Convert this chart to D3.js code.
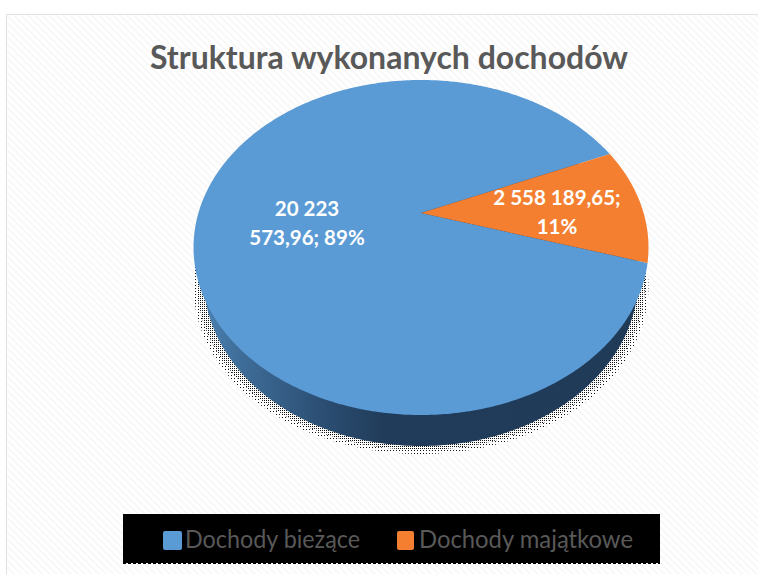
<!DOCTYPE html>
<html lang="pl">
<head>
<meta charset="utf-8">
<style>
html,body{margin:0;padding:0;background:#fff}
svg{display:block}
text{font-family:Lato,"Open Sans",sans-serif}
</style>
<script src="https://cdn.jsdelivr.net/npm/d3@7"></script>
</head>
<body>
<svg id="chart" width="758" height="574"></svg>
<script>
const title = "Struktura wykonanych dochodów";
const categories = ["Dochody bieżące", "Dochody majątkowe"];
const values = [20223573.96, 2558189.65];
const sliceColors = ["#5b9bd5", "#f47f30"];
const labelLines = [["20 223", "573,96; 89%"], ["2 558 189,65;", "11%"]];

const svg = d3.select("#chart");
const W = 758, H = 574;
const defs = svg.append("defs");

const hatch = defs.append("pattern").attr("id", "hatch").attr("width", 5).attr("height", 5)
  .attr("patternUnits", "userSpaceOnUse").attr("patternTransform", "rotate(45)");
hatch.append("rect").attr("width", 5).attr("height", 5).attr("fill", "#ffffff");
hatch.append("rect").attr("width", 5).attr("height", 2).attr("fill", "#f8f8f8");

function stipple(id, step) {
  const p = defs.append("pattern").attr("id", id).attr("width", step).attr("height", step)
    .attr("patternUnits", "userSpaceOnUse");
  p.append("rect").attr("width", step).attr("height", step).attr("fill", "#ffffff");
  p.append("rect").attr("width", 1).attr("height", 1).attr("fill", "#111111");
}
stipple("stippleDense", 2);
stipple("stippleSparse", 3);

const wallGrad = defs.append("linearGradient").attr("id", "wall")
  .attr("gradientUnits", "userSpaceOnUse").attr("x1", 193).attr("x2", 648).attr("y1", 0).attr("y2", 0);
[[0, "#4f86b8"], [0.1, "#3f6e9a"], [0.3, "#2a4c70"], [0.42, "#213c5a"], [1, "#1f3b58"]]
  .forEach(([o, c]) => wallGrad.append("stop").attr("offset", o).attr("stop-color", c));

// panel
svg.append("rect").attr("width", W).attr("height", H).attr("fill", "#ffffff");
svg.append("rect").attr("x", 6.5).attr("y", 14.5).attr("width", W).attr("height", H)
  .attr("fill", "url(#hatch)").attr("stroke", "#e2e2e2");

// title
svg.append("text").attr("x", 389).attr("y", 69).attr("text-anchor", "middle")
  .attr("font-size", 33).attr("font-weight", 700).attr("fill", "#595959")
  .attr("textLength", 478).attr("lengthAdjust", "spacingAndGlyphs").text(title);

// perspective projection of the unit disc
const x0 = 421, y0 = 213, k = -0.206, a = 160.4, b = 222.6;
const project = (u, v) => {
  const w = 1 + k * v;
  return [x0 + b * u / w, y0 + a * v / w];
};
const onRim = t => project(Math.sin(t), -Math.cos(t));
const line = d3.line();
const start = 107 * Math.PI / 180;
const pie = d3.pie().sort(null).startAngle(start).endAngle(start + 2 * Math.PI);
const arcs = pie(values);
const sampled = (t0, t1) => {
  const n = Math.max(2, Math.ceil((t1 - t0) / 0.01));
  return d3.range(n + 1).map(i => onRim(t0 + (t1 - t0) * i / n));
};
const rim = sampled(0, 2 * Math.PI);
const rimPath = (sx, dy) => line(rim.map(([x, y]) => [x0 + (x - x0) * sx, y + dy])) + "Z";

// stipple shadow and side wall
svg.append("path").attr("d", rimPath(1, 39)).attr("fill", "url(#stippleSparse)");
svg.append("path").attr("d", rimPath(0.985, 35)).attr("fill", "url(#stippleDense)");
svg.append("path").attr("d", rimPath(0.955, 31)).attr("fill", "url(#wall)");

// slices
svg.append("g").selectAll("path").data(arcs).join("path")
  .attr("d", d => line([[x0, y0], ...sampled(d.startAngle, d.endAngle)]) + "Z")
  .attr("fill", (d, i) => sliceColors[i]);

// data labels
const labelPos = [[307, 216], [557, 205]];
svg.append("g").selectAll("text").data(labelLines).join("text")
  .attr("text-anchor", "middle").attr("font-size", 20.5).attr("font-weight", 700).attr("fill", "#ffffff")
  .attr("transform", (d, i) => `translate(${labelPos[i]})`)
  .selectAll("tspan").data(d => d).join("tspan")
  .attr("x", 0).attr("y", (d, i) => i * 28.5).text(d => d);

// legend
svg.append("rect").attr("x", 123).attr("y", 514).attr("width", 537).attr("height", 49).attr("fill", "#000000");
svg.append("line").attr("x1", 123).attr("x2", 660).attr("y1", 563.5).attr("y2", 563.5)
  .attr("stroke", "#000000").attr("stroke-dasharray", "3 2");
const legendX = [163, 397];
const items = svg.append("g").selectAll("g").data(categories).join("g")
  .attr("transform", (d, i) => `translate(${legendX[i]},531)`);
items.append("rect").attr("width", (d, i) => i ? 17 : 19).attr("height", 19).attr("rx", 2)
  .attr("fill", (d, i) => sliceColors[i]);
items.append("text").attr("x", 22).attr("y", 17)
  .attr("font-size", 25).attr("fill", "#595959")
  .attr("textLength", (d, i) => i ? 214 : 175).attr("lengthAdjust", "spacingAndGlyphs").text(d => d);
</script>
</body>
</html>
